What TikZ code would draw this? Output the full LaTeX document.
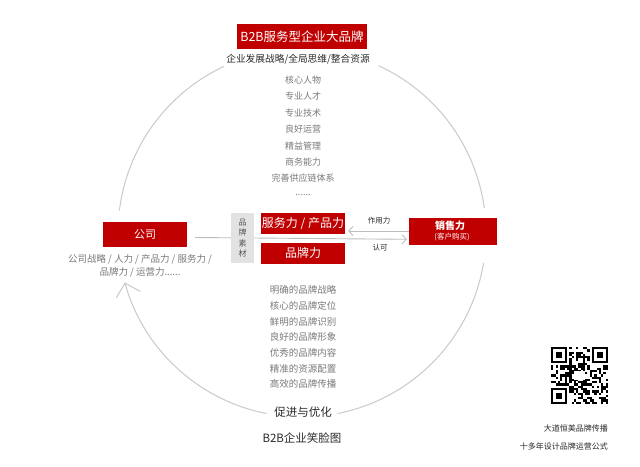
\documentclass[tikz,border=0pt]{standalone}
\usepackage{fontspec}
\setmainfont{Noto Sans CJK SC}
\usetikzlibrary{arrows.meta,calc}
\definecolor{brandred}{HTML}{C00000}
\definecolor{ringgray}{HTML}{CACACA}
\definecolor{conngray}{HTML}{BDBDBD}
\definecolor{txtgray}{HTML}{7A7A7A}
\definecolor{txtdark}{HTML}{2A2A2A}
\definecolor{tagfill}{HTML}{E2E2E2}
\newcommand\qrfinder[2]{%
  \fill[white] (551+#1*2.28-2.28,-347-#2*2.28+2.28) rectangle ++(9*2.28,-9*2.28);
  \fill[black] (551+#1*2.28,-347-#2*2.28) rectangle ++(7*2.28,-7*2.28);
  \fill[white] (551+#1*2.28+2.28,-347-#2*2.28-2.28) rectangle ++(5*2.28,-5*2.28);
  \fill[black] (551+#1*2.28+4.56,-347-#2*2.28-4.56) rectangle ++(3*2.28,-3*2.28);}
\begin{document}
\begin{tikzpicture}[x=1pt,y=1pt,
  redbox/.style={fill=brandred, text=white, inner sep=0, align=center},
  ring/.style={draw=ringgray, line width=1pt},
  conn/.style={draw=conngray, line width=0.9pt},
  smallbarb/.style={-{Straight Barb[length=4pt,width=9pt,line width=0.9pt]}},
  listtxt/.style={text=txtgray, inner sep=0, font=\fontsize{9}{9}\selectfont},
  darktxt/.style={text=txtdark, inner sep=0}]
\useasboundingbox (0,0) rectangle (640,-466);
\fill[white] (0,0) rectangle (640,-466);

% ring
\coordinate (ctr) at (302,-233);
\draw[ring] (ctr) ++(115:184) arc[start angle=115, end angle=173, radius=184];
\draw[ring] (ctr) ++(65.4:184) arc[start angle=65.4, end angle=7.8, radius=184];
\draw[ring] (ctr) ++(-9.4:184) arc[start angle=-9.4, end angle=-78.8, radius=184];
\draw[ring, -{Straight Barb[length=12pt,width=25pt,line width=1pt]}] (ctr) ++(-101.2:184) arc[start angle=-101.2, end angle=-164.4, radius=184];

% title
\node[redbox, minimum width=130pt, minimum height=25pt, font=\fontsize{12.5}{13}\selectfont] (title) at (302,-36.5) {B2B服务型企业大品牌};
\node[darktxt, font=\fontsize{9.7}{10}\selectfont] (sub) at (298,-59) {企业发展战略/全局思维/整合资源};

% top list
\foreach \t [count=\k from 0] in {核心人物,专业人才,专业技术,良好运营,精益管理,商务能力,完善供应链体系}
  \node[listtxt] (top\k) at (303,-80-16.4*\k) {\t};
\node[listtxt] (topdots) at (303,-195) {......};

% company
\node[redbox, minimum width=84pt, minimum height=25pt, font=\fontsize{11}{12}\selectfont] (comp) at (145,-234.5) {公司};
\node[listtxt, align=center, font=\fontsize{9.5}{12.5}\selectfont] (compdesc) at (140,-266) {公司战略 / 人力 / 产品力 / 服务力 /\\品牌力 / 运营力......};

% sales
\node[redbox, minimum width=88pt, minimum height=27pt] (sales) at (453,-231.5) {};
\node[text=white, inner sep=0, font=\fontsize{10}{10}\selectfont\bfseries] (salest) at (450,-226) {销售力};
\node[text=white, inner sep=0, font=\fontsize{7.5}{8}\selectfont] (salessub) at (452,-237.5) {(客户购买)};

% connectors (behind boxes)
\draw[conn, smallbarb] ([xshift=8pt,yshift=-3pt]comp.east) -- ([xshift=-2pt,yshift=-7.8pt]sales.west);

% center boxes
\node[fill=tagfill, minimum width=23pt, minimum height=50pt, inner sep=0] (tag) at (242.5,-238) {};
\node[text=txtdark!80, inner sep=0, align=center, font=\fontsize{8}{10.5}\selectfont] (tagt) at (242.5,-238) {品\\牌\\素\\材};
\node[redbox, minimum width=84pt, minimum height=21pt, font=\fontsize{12}{12}\selectfont] (svc) at (303,-223.5) {服务力 / 产品力};
\node[redbox, minimum width=84pt, minimum height=21pt, font=\fontsize{12}{12}\selectfont] (brand) at (303,-253) {品牌力};

\draw[conn, smallbarb] ([yshift=0.5pt]sales.west) -- ([xshift=3pt,yshift=-7.5pt]svc.east);
\node[darktxt, font=\fontsize{7.5}{8}\selectfont] (force) at (379,-221) {作用力};
\node[darktxt, font=\fontsize{7.5}{8}\selectfont] (recog) at (380,-248) {认可};

% bottom list
\foreach \t [count=\k from 0] in {明确的品牌战略,核心的品牌定位,鲜明的品牌识别,良好的品牌形象,优秀的品牌内容,精准的资源配置,高效的品牌传播}
  \node[listtxt, font=\fontsize{9.5}{9.5}\selectfont] (bot\k) at (303,-290-15.7*\k) {\t};

\node[darktxt, font=\fontsize{11.5}{12}\selectfont] (promo) at (303,-412) {促进与优化};
\node[darktxt, font=\fontsize{11.5}{12}\selectfont] (caption) at (302,-438) {B2B企业笑脸图};

% QR code
\pgfmathsetseed{17}
\foreach \i in {0,...,24}{\foreach \j in {0,...,24}{%
  \pgfmathrandominteger{\r}{0}{1}%
  \ifnum\r=1 \fill[black] (551+\i*2.28,-347-\j*2.28) rectangle ++(2.28,-2.28);\fi}}
\fill[white] (550,-346) rectangle (551,-405);
\qrfinder{0}{0}
\qrfinder{18}{0}
\qrfinder{0}{18}
\fill[white] (551+10*2.28,-347-10.5*2.28) rectangle ++(5*2.28,-4*2.28);
\node[darktxt, anchor=east, font=\fontsize{8}{8}\selectfont] (qr1) at (608,-428) {大道恒美品牌传播};
\node[darktxt, anchor=east, font=\fontsize{8}{8}\selectfont] (qr2) at (608,-446) {十多年设计品牌运营公式};
\end{tikzpicture}
\end{document}
